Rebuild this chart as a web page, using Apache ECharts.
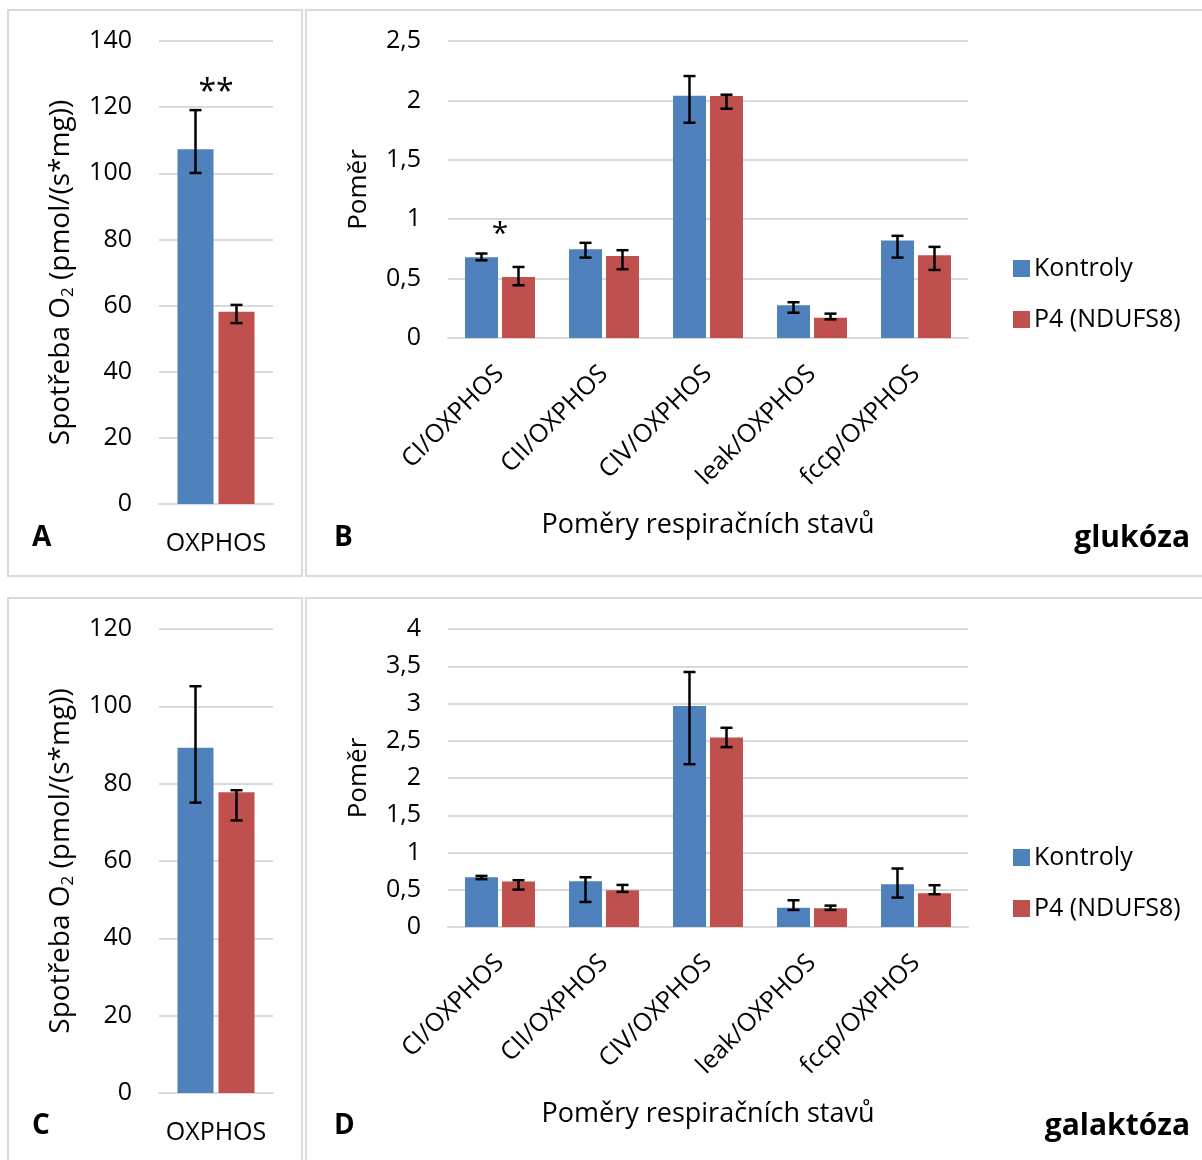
<!DOCTYPE html>
<html><head><meta charset="utf-8">
<script src="https://cdn.jsdelivr.net/npm/echarts@6/dist/echarts.min.js"></script>
<style>html,body{margin:0;padding:0;background:#fff}#c{width:1202px;height:1160px}</style>
</head><body><div id="c"></div>
<script>
// ---------- data ----------
const oxCats = ['OXPHOS'];
const ratioCats = ['CI/OXPHOS', 'CII/OXPHOS', 'CIV/OXPHOS', 'leak/OXPHOS', 'fccp/OXPHOS'];
const seriesNames = ['Kontroly', 'P4 (NDUFS8)'];

// A (glukóza, OXPHOS)
const aKontroly = [107.3], aKontrolyLo = [100.1], aKontrolyHi = [119.1];
const aP4 = [58.1], aP4Lo = [54.7], aP4Hi = [60.2];
const aSig = ['**'];
// B (glukóza, ratios)
const bKontroly = [0.68, 0.747, 2.039, 0.275, 0.82];
const bKontrolyLo = [0.654, 0.677, 1.812, 0.213, 0.677];
const bKontrolyHi = [0.711, 0.801, 2.205, 0.301, 0.86];
const bP4 = [0.514, 0.691, 2.037, 0.171, 0.697];
const bP4Lo = [0.444, 0.579, 1.93, 0.157, 0.573];
const bP4Hi = [0.598, 0.739, 2.048, 0.205, 0.767];
const bSig = ['*', '', '', '', ''];
// C (galaktóza, OXPHOS)
const cKontroly = [89.3], cKontrolyLo = [75.1], cKontrolyHi = [105.2];
const cP4 = [77.8], cP4Lo = [70.5], cP4Hi = [78.3];
const cSig = [''];
// D (galaktóza, ratios)
const dKontroly = [0.668, 0.615, 2.965, 0.26, 0.574];
const dKontrolyLo = [0.642, 0.336, 2.185, 0.229, 0.395];
const dKontrolyHi = [0.686, 0.668, 3.423, 0.359, 0.785];
const dP4 = [0.61, 0.493, 2.544, 0.251, 0.453];
const dP4Lo = [0.502, 0.471, 2.414, 0.229, 0.44];
const dP4Hi = [0.628, 0.565, 2.674, 0.287, 0.561];
const dSig = ['', '', '', '', ''];

// ---------- styles ----------
const FONT = 'Open Sans';
const BLUE = '#4f81bd', RED = '#c0504d', GRID = '#d9d9d9', TXT = '#000';
const chart = echarts.init(document.getElementById('c'));

const fmt = v => String(v).replace('.', ',');

function yAx(gi, max, interval, name, nameGap, rich) {
  return {
    gridIndex: gi, type: 'value', min: 0, max: max, interval: interval,
    axisLine: {show: false}, axisTick: {show: false},
    splitLine: {lineStyle: {color: GRID, width: 2}},
    axisLabel: {formatter: fmt, fontFamily: FONT, fontSize: 25, color: TXT, margin: 27},
    name: name, nameLocation: 'middle', nameRotate: 90, nameGap: nameGap,
    nameTextStyle: rich ? {fontFamily: FONT, fontSize: 28, color: TXT, rich: rich} :
      {fontFamily: FONT, fontSize: 26, color: TXT}
  };
}
function xAx(gi, cats, rotated, name) {
  return {
    gridIndex: gi, type: 'category', data: cats,
    axisLine: {lineStyle: {color: GRID, width: 2}}, axisTick: {show: false},
    axisLabel: rotated ? {rotate: 45, fontFamily: FONT, fontSize: 25, color: TXT, margin: 32, interval: 0}
      : {fontFamily: FONT, fontSize: 25, color: TXT, margin: 27},
    name: name || '', nameLocation: 'middle', nameGap: 174,
    nameTextStyle: {fontFamily: FONT, fontSize: 27, color: TXT}
  };
}
const o2Rich = {
  a: {fontFamily: FONT, fontSize: 28, color: TXT},
  s: {fontFamily: FONT, fontSize: 17, color: TXT, verticalAlign: 'bottom', padding: [14, 0, 0, 0]}
};
const o2Name = '{a|Spotřeba O}{s|2}{a| (pmol/(s*mg))}';

function bars(gi, k, p, bw, gap) {
  return [
    {name: seriesNames[0], type: 'bar', xAxisIndex: gi, yAxisIndex: gi, data: k,
     barWidth: bw, barGap: gap, itemStyle: {color: BLUE}, silent: true},
    {name: seriesNames[1], type: 'bar', xAxisIndex: gi, yAxisIndex: gi, data: p,
     barWidth: bw, barGap: gap, itemStyle: {color: RED}, silent: true}
  ];
}
function errs(gi, lo, hi, off) {
  return {
    type: 'custom', xAxisIndex: gi, yAxisIndex: gi, silent: true, z: 10,
    data: lo.map((l, i) => [i, l, hi[i]]),
    renderItem: function (params, api) {
      const t = api.coord([api.value(0), api.value(2)]);
      const b = api.coord([api.value(0), api.value(1)]);
      const x = t[0] + off, c = 6;
      const st = {stroke: '#000', lineWidth: 2.5};
      return {type: 'group', children: [
        {type: 'line', shape: {x1: x, y1: t[1], x2: x, y2: b[1]}, style: st},
        {type: 'line', shape: {x1: x - c, y1: t[1], x2: x + c, y2: t[1]}, style: st},
        {type: 'line', shape: {x1: x - c, y1: b[1], x2: x + c, y2: b[1]}, style: st}
      ]};
    }
  };
}
function sig(gi, marks, hi, fs, dy) {
  return {
    type: 'custom', xAxisIndex: gi, yAxisIndex: gi, silent: true, z: 11,
    data: marks.map((m, i) => [i, hi[i]]),
    renderItem: function (params, api) {
      const m = marks[params.dataIndex];
      if (!m) return null;
      const p = api.coord([api.value(0), api.value(1)]);
      return {type: 'text', style: {text: m, x: p[0], y: p[1] - dy, fill: TXT,
        font: fs + 'px "' + FONT + '"', align: 'center', verticalAlign: 'middle'}};
    }
  };
}
function lbl(text, x, y, size, align) {
  return {type: 'text', style: {text: text, x: x, y: y, fill: TXT,
    font: 'bold ' + size + 'px "' + FONT + '"', align: align || 'left', verticalAlign: 'middle'}};
}
function box(x, y, w, h) {
  return {type: 'rect', shape: {x: x, y: y, width: w, height: h},
    style: {fill: 'none', stroke: GRID, lineWidth: 2}, silent: true};
}
function legend(top) {
  return {data: seriesNames, orient: 'vertical', left: 1008, top: top, itemWidth: 17, itemHeight: 17,
    itemGap: 26, icon: 'rect', selectedMode: false,
    textStyle: {fontFamily: FONT, fontSize: 25, color: TXT, padding: [0, 0, 0, -1]}};
}

chart.setOption({
  animation: false,
  legend: [legend(251), legend(840)],
  grid: [
    {left: 159, top: 41, width: 114, height: 463},
    {left: 448, top: 41, width: 520, height: 297},
    {left: 159, top: 629, width: 114, height: 464},
    {left: 448, top: 629, width: 520, height: 298}
  ],
  xAxis: [xAx(0, oxCats, false), xAx(1, ratioCats, true, 'Poměry respiračních stavů'),
          xAx(2, oxCats, false), xAx(3, ratioCats, true, 'Poměry respiračních stavů')],
  yAxis: [yAx(0, 140, 20, o2Name, 82, o2Rich), yAx(1, 2.5, 0.5, 'Poměr', 76),
          yAx(2, 120, 20, o2Name, 82, o2Rich), yAx(3, 4, 0.5, 'Poměr', 76)],
  series: [].concat(
    bars(0, aKontroly, aP4, 36, '14%'),
    [errs(0, aKontrolyLo, aKontrolyHi, -20.5), errs(0, aP4Lo, aP4Hi, 20.5), sig(0, aSig, aKontrolyHi, 32, 17)],
    bars(1, bKontroly, bP4, 33, '12%'),
    [errs(1, bKontrolyLo, bKontrolyHi, -18.5), errs(1, bP4Lo, bP4Hi, 18.5), sig(1, bSig, bKontrolyHi, 30, 19)],
    bars(2, cKontroly, cP4, 36, '14%'),
    [errs(2, cKontrolyLo, cKontrolyHi, -20.5), errs(2, cP4Lo, cP4Hi, 20.5), sig(2, cSig, cKontrolyHi, 32, 17)],
    bars(3, dKontroly, dP4, 33, '12%'),
    [errs(3, dKontrolyLo, dKontrolyHi, -18.5), errs(3, dP4Lo, dP4Hi, 18.5), sig(3, dSig, dKontrolyHi, 30, 19)]
  ),
  graphic: [
    box(8, 10, 294, 566), box(306, 10, 900, 566),
    box(8, 598, 294, 570), box(306, 598, 900, 570),
    lbl('A', 32, 538, 28), lbl('B', 334, 538, 28),
    lbl('C', 32, 1126, 28), lbl('D', 334, 1126, 28),
    lbl('glukóza', 1190, 538, 30, 'right'), lbl('galaktóza', 1190, 1126, 30, 'right')
  ]
});
</script></body></html>
